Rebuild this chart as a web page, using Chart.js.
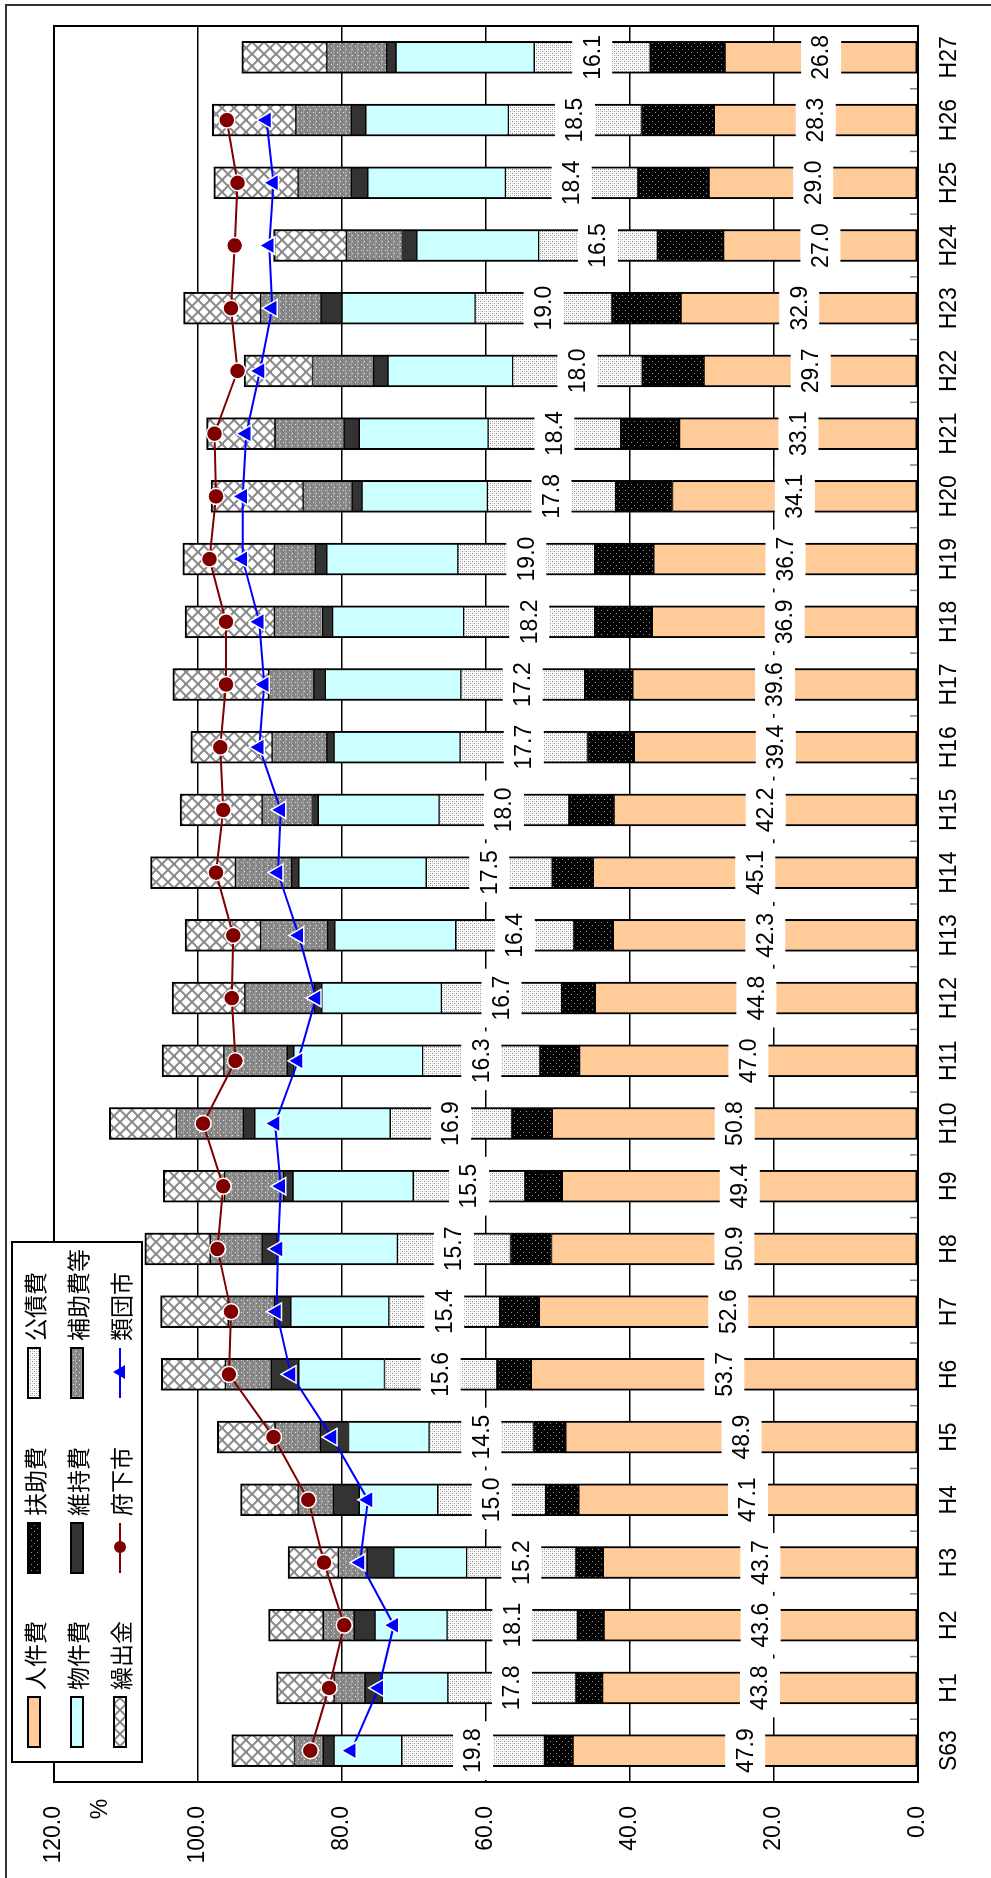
<!DOCTYPE html>
<html>
<head>
<meta charset="utf-8">
<script src="https://cdn.jsdelivr.net/npm/chart.js@4.4.1/dist/chart.umd.min.js"></script>
<style>
html, body { margin:0; padding:0; width:991px; height:1878px; overflow:hidden; background:#fff; }
#wrap { position:absolute; left:0; top:0; width:1878px; height:991px;
  transform-origin:0 0; transform:translate(0px,1878px) rotate(-90deg); background:#fff; }
canvas { display:block; }
</style>
</head>
<body>
<div id="wrap"><canvas id="c" width="1878" height="991" style="width:1878px;height:991px"></canvas></div>
<script>
// ---- data ----
const categories = ['S63','H1','H2','H3','H4','H5','H6','H7','H8','H9','H10','H11','H12','H13','H14','H15','H16','H17','H18','H19','H20','H21','H22','H23','H24','H25','H26','H27'];
const personnel   = [47.9,43.8,43.6,43.7,47.1,48.9,53.7,52.6,50.9,49.4,50.8,47.0,44.8,42.3,45.1,42.2,39.4,39.6,36.9,36.7,34.1,33.1,29.7,32.9,27.0,29.0,28.3,26.8]; // 人件費
const assistance  = [4.0,3.7,3.7,3.8,4.6,4.5,4.8,5.5,5.7,5.2,5.6,5.5,4.7,5.5,5.7,6.3,6.5,6.7,8.0,8.2,7.9,8.2,8.6,9.6,9.2,9.9,10.1,10.4]; // 扶助費
const debt        = [19.8,17.8,18.1,15.2,15.0,14.5,15.6,15.4,15.7,15.5,16.9,16.3,16.7,16.4,17.5,18.0,17.7,17.2,18.2,19.0,17.8,18.4,18.0,19.0,16.5,18.4,18.5,16.1]; // 公債費
const goods       = [9.4,9.1,10.0,10.1,10.9,11.2,11.9,13.6,16.7,16.7,18.8,17.9,16.6,16.8,17.7,16.8,17.5,18.8,18.2,18.2,17.4,17.9,17.3,18.5,16.9,19.1,19.8,19.2]; // 物件費
const maintenance = [1.5,2.4,2.9,3.7,3.6,3.9,3.8,2.3,2.1,1.3,1.6,0.9,1.0,1.0,1.0,0.8,1.0,1.6,1.4,1.6,1.4,2.1,2.0,2.9,2.0,2.3,2.0,1.3]; // 維持費
const subsidies   = [4.0,4.3,4.3,4.0,4.9,6.3,6.4,6.4,7.2,8.2,9.3,8.8,9.7,9.3,7.8,7.0,7.6,6.3,6.7,5.7,6.8,9.6,8.5,8.4,7.8,7.4,7.7,8.3]; // 補助費等
const transfers   = [8.7,8.0,7.6,7.0,8.0,8.0,8.9,9.4,9.1,8.5,9.3,8.6,10.1,10.5,11.8,11.4,11.3,13.3,12.4,12.7,12.8,9.5,9.5,10.7,10.1,11.7,11.6,11.8]; // 繰出金
const fukaCities  = [84.4,81.8,79.7,82.5,84.7,89.5,95.7,95.4,97.3,96.5,99.3,94.8,95.3,95.1,97.5,96.5,96.9,96.1,96.1,98.4,97.5,97.7,94.5,95.4,94.9,94.5,96.0,null]; // 府下市
const ruidanCities= [78.7,74.9,72.8,77.5,76.4,81.4,87.1,89.1,88.9,88.5,89.3,86.1,83.6,86.0,88.9,88.5,91.5,90.8,91.5,93.8,93.8,93.3,91.4,89.7,90.1,89.5,90.5,null]; // 類団市
const yTickValues = [0,20,40,60,80,100,120];

// ---- styles ----
const FONT = '"Liberation Sans", Arial, "Noto Sans CJK JP", sans-serif';
const JFONT = '"Noto Sans CJK JP", "Liberation Sans", sans-serif';
const canvas = document.getElementById('c');
const ctx0 = canvas.getContext('2d');
function makePattern(w, h, draw) {
  const c = document.createElement('canvas'); c.width = w; c.height = h;
  const g = c.getContext('2d'); draw(g); return ctx0.createPattern(c, 'repeat');
}
const patAssist = makePattern(6, 6, g => { g.fillStyle = '#000'; g.fillRect(0,0,6,6); g.fillStyle = '#9a9a9a'; g.fillRect(1,1,1,1); g.fillRect(4,4,1,1); });
const patDebt = makePattern(4, 4, g => { g.fillStyle = '#fff'; g.fillRect(0,0,4,4); g.fillStyle = '#8a8a8a'; g.fillRect(0,0,1,1); g.fillRect(2,2,1,1); g.fillStyle = '#c8c8c8'; g.fillRect(2,0,1,1); g.fillRect(0,2,1,1); });
const patSub = makePattern(6, 6, g => { g.fillStyle = '#858585'; g.fillRect(0,0,6,6); g.fillStyle = '#a0a0a0'; g.fillRect(0,3,6,1); g.fillStyle = '#e6e6e6'; g.fillRect(1,1,1,1); g.fillRect(4,4,1,1); });
const patCross = makePattern(12, 12, g => { g.fillStyle = '#fff'; g.fillRect(0,0,12,12); g.strokeStyle = '#8c8c8c'; g.lineWidth = 2;
  g.beginPath(); g.moveTo(0,0); g.lineTo(12,12); g.moveTo(12,0); g.lineTo(0,12);
  g.moveTo(-6,6); g.lineTo(6,18); g.moveTo(6,-6); g.lineTo(18,6); g.moveTo(6,-6); g.lineTo(-6,6); g.moveTo(18,6); g.lineTo(6,18); g.stroke(); });

const midBorder = {top:1, bottom:1, left:2, right:2};
function barDs(label, data, bg, extra) {
  return Object.assign({ type:'bar', label, data, backgroundColor:bg, borderColor:'#000',
    borderWidth: midBorder, borderSkipped:false, stack:'bars', order:1, barThickness:32 }, extra || {});
}
const datasets = [
  barDs('人件費', personnel, '#FFCC99', {borderWidth:{top:1,bottom:2,left:2,right:2}}),
  barDs('扶助費', assistance, patAssist),
  barDs('公債費', debt, patDebt),
  barDs('物件費', goods, '#CCFFFF'),
  barDs('維持費', maintenance, '#333333'),
  barDs('補助費等', subsidies, patSub),
  barDs('繰出金', transfers, patCross, {borderWidth:{top:2,bottom:1,left:2,right:2}}),
  { type:'line', label:'府下市', data:fukaCities, stack:'l1', order:0, borderColor:'#800000', borderWidth:2,
    pointStyle:'circle', pointRadius:8, pointBackgroundColor:'#800000', pointBorderColor:'#fff', pointBorderWidth:1.5, tension:0 },
  { type:'line', label:'類団市', data:ruidanCities, stack:'l2', order:0, borderColor:'#0000FF', borderWidth:2,
    pointStyle:'triangle', pointRadius:10, pointBackgroundColor:'#0000FF', pointBorderColor:'#fff', pointBorderWidth:1.5, tension:0 }
];
const labelledSets = [0, 2];

const bgPlugin = { id:'bg', beforeDraw(chart) { const c = chart.ctx; c.save(); c.fillStyle = '#fff'; c.fillRect(0,0,chart.width,chart.height); c.restore(); } };

const framePlugin = {
  id:'frame',
  afterDatasetsDraw(chart) {
    const c = chart.ctx, a = chart.chartArea;
    // value labels
    c.save();
    c.font = '23px ' + FONT;
    c.textAlign = 'center'; c.textBaseline = 'middle';
    labelledSets.forEach(di => {
      const meta = chart.getDatasetMeta(di);
      const data = chart.data.datasets[di].data;
      meta.data.forEach((el, i) => {
        if (data[i] == null) return;
        const p = el.getProps(['x','y','base'], true);
        const cy = (p.y + p.base) / 2;
        const t = data[i].toFixed(1);
        const w = c.measureText(t).width + 14;
        c.fillStyle = '#fff';
        c.fillRect(p.x - w/2, cy - 20, w, 40);
        c.fillStyle = '#000';
        c.fillText(t, p.x, cy + 1);
      });
    });
    c.restore();
  },
  afterDraw(chart) {
    const c = chart.ctx, a = chart.chartArea, xs = chart.scales.x;
    c.save();
    // inner tick marks between categories
    c.strokeStyle = '#808080'; c.lineWidth = 1.5;
    for (let i = 1; i < categories.length; i++) {
      const px = (xs.getPixelForValue(i) + xs.getPixelForValue(i - 1)) / 2;
      c.beginPath(); c.moveTo(px, a.bottom); c.lineTo(px, a.bottom - 8); c.stroke();
    }
    // plot frame
    c.strokeStyle = '#000'; c.lineWidth = 2;
    c.strokeRect(a.left, a.top, a.right - a.left, a.bottom - a.top);
    // outer border (top and right visible)
    c.strokeStyle = '#333'; c.lineWidth = 2;
    c.beginPath(); c.moveTo(0, 6); c.lineTo(1873, 6); c.lineTo(1873, chart.height); c.stroke();
    // unit
    c.fillStyle = '#000'; c.font = '23px ' + FONT; c.textAlign = 'center'; c.textBaseline = 'middle';
    c.fillText('%', 69, 101);
    // legend
    const L = {x:116, y:12, w:520, h:130};
    c.fillStyle = '#fff'; c.fillRect(L.x, L.y, L.w, L.h);
    c.strokeStyle = '#000'; c.lineWidth = 2; c.strokeRect(L.x, L.y, L.w, L.h);
    const colX = [131, 305, 480], rowY = [34, 77, 120];
    const ds = chart.data.datasets;
    ds.forEach((d, k) => {
      const x = colX[k % 3], y = rowY[Math.floor(k / 3)];
      if (d.type === 'bar') {
        c.fillStyle = d.backgroundColor; c.fillRect(x, y - 6, 50, 12);
        c.strokeStyle = '#000'; c.lineWidth = 2; c.strokeRect(x, y - 6, 50, 12);
      } else {
        c.strokeStyle = d.borderColor; c.lineWidth = 2;
        c.beginPath(); c.moveTo(x, y); c.lineTo(x + 50, y); c.stroke();
        c.fillStyle = d.pointBackgroundColor;
        c.beginPath();
        if (d.pointStyle === 'circle') { c.arc(x + 26, y, 6, 0, Math.PI * 2); }
        else { c.moveTo(x + 26, y - 7); c.lineTo(x + 33, y + 5); c.lineTo(x + 19, y + 5); c.closePath(); }
        c.fill();
      }
      c.fillStyle = '#000'; c.font = '23px ' + JFONT; c.textAlign = 'left'; c.textBaseline = 'middle';
      c.fillText(d.label, x + 57, y + 1);
    });
    c.restore();
  }
};

new Chart(canvas, {
  type:'bar',
  data:{ labels:categories, datasets },
  options:{
    responsive:false, devicePixelRatio:1, animation:false,
    layout:{ padding:{ left:0, right:26, top:54, bottom:0 } },
    plugins:{ legend:{display:false}, tooltip:{enabled:false}, title:{display:false} },
    scales:{
      x:{ stacked:true, offset:true,
        grid:{ display:false, drawTicks:false },
        border:{ display:true, color:'#000', width:2 },
        ticks:{ color:'#000', font:{ family:FONT, size:23 }, padding:18, autoSkip:false, maxRotation:0 },
        afterFit(s){ s.height = 73; } },
      y:{ stacked:true, min:0, max:120,
        afterBuildTicks(s){ s.ticks = yTickValues.map(v => ({ value:v })); },
        grid:{ color:'#000', lineWidth:1.5, drawTicks:false },
        border:{ display:true, color:'#000', width:2 },
        ticks:{ color:'#000', font:{ family:FONT, size:23 }, padding:24, callback:v => Number(v).toFixed(1) },
        afterFit(s){ s.width = 96; } }
    }
  },
  plugins:[bgPlugin, framePlugin]
});
</script>
</body>
</html>
